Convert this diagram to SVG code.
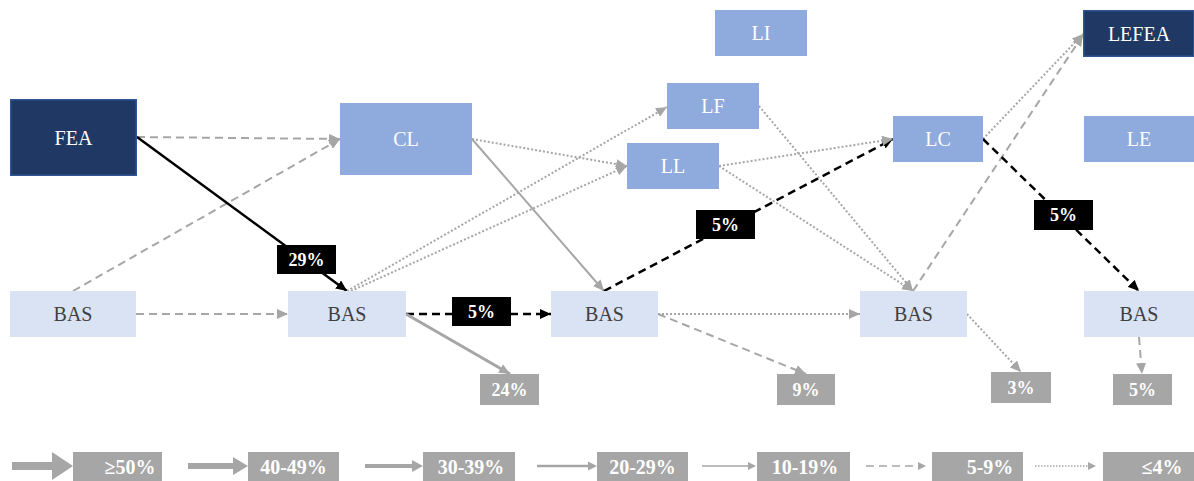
<svg xmlns="http://www.w3.org/2000/svg" width="1194" height="481" viewBox="0 0 1194 481">
  <style>
    .txt { font-family: "Liberation Serif", "DejaVu Serif", serif; font-size: 20px; text-anchor: middle; dominant-baseline: central; }
    .w { fill: #ffffff; }
    .d { fill: #404040; }
    .lbl { font-family: "Liberation Serif", "DejaVu Serif", serif; font-size: 18px; font-weight: bold; fill: #ffffff; text-anchor: middle; dominant-baseline: central; }
    .leg { font-family: "Liberation Serif", "DejaVu Serif", serif; font-size: 20px; font-weight: bold; fill: #ffffff; text-anchor: middle; dominant-baseline: central; }
    .navy { fill: #1f3864; stroke: #2f5597; stroke-width: 1.5; }
    .mid { fill: #8faadc; }
    .pale { fill: #dae3f3; }
    .grey { fill: #a6a6a6; }
    .black { fill: #000000; }
    .ln { fill: none; }
    .g-dash { stroke: #a6a6a6; stroke-width: 2; stroke-dasharray: 8 5; marker-end: url(#ahGrey); }
    .g-dot { stroke: #a6a6a6; stroke-width: 2; stroke-dasharray: 2 2; marker-end: url(#ahGrey); }
    .g-solid { stroke: #a6a6a6; stroke-width: 2; marker-end: url(#ahGrey); }
    .g-thick { stroke: #a6a6a6; stroke-width: 3; marker-end: url(#ahGrey); }
    .k-solid { stroke: #000000; stroke-width: 2.5; marker-end: url(#ahBlack); }
    .k-dash { stroke: #000000; stroke-width: 2.5; stroke-dasharray: 8 5; marker-end: url(#ahBlack); }
  </style>
  <defs>
    <marker id="ahGrey" markerUnits="userSpaceOnUse" markerWidth="11" markerHeight="10" refX="11" refY="5" orient="auto">
      <path d="M0,0 L11,5 L0,10 z" fill="#a6a6a6"/>
    </marker>
    <marker id="ahBlack" markerUnits="userSpaceOnUse" markerWidth="11" markerHeight="10" refX="11" refY="5" orient="auto">
      <path d="M0,0 L11,5 L0,10 z" fill="#000000"/>
    </marker>
  </defs>

  <rect width="1194" height="481" fill="#ffffff"/>

  <!-- flows between states -->
  <g id="connectors" class="ln">
    <line class="g-dash" x1="137" y1="137" x2="340" y2="139"/>
    <line class="g-dash" x1="73" y1="291" x2="340" y2="139"/>
    <line class="g-dash" x1="136" y1="314" x2="288" y2="314"/>
    <line class="k-solid" x1="137" y1="137" x2="347" y2="291"/>
    <line class="g-dot" x1="347" y1="291" x2="667" y2="107"/>
    <line class="g-dot" x1="351" y1="291" x2="627" y2="166"/>
    <line class="g-dot" x1="472" y1="139" x2="627" y2="166"/>
    <line class="g-solid" x1="472" y1="139" x2="604" y2="291"/>
    <line class="k-dash" x1="406" y1="314" x2="551" y2="314"/>
    <line class="g-thick" x1="406" y1="314" x2="510" y2="374"/>
    <line class="k-dash" x1="604" y1="291" x2="893" y2="139"/>
    <line class="g-dot" x1="658" y1="314" x2="860" y2="314"/>
    <line class="g-dash" x1="658" y1="314" x2="806" y2="374"/>
    <line class="g-dot" x1="759" y1="106" x2="913" y2="291"/>
    <line class="g-dot" x1="719" y1="166" x2="893" y2="139"/>
    <line class="g-dot" x1="719" y1="166" x2="913" y2="291"/>
    <line class="g-dash" x1="913" y1="291" x2="1083" y2="35"/>
    <line class="g-dot" x1="983" y1="139" x2="1083" y2="34"/>
    <line class="k-dash" x1="983" y1="139" x2="1139" y2="291"/>
    <line class="g-dot" x1="967" y1="314" x2="1021" y2="372"/>
    <line class="g-dash" x1="1139" y1="337" x2="1142" y2="374"/>

    <!-- share labels on the main flows -->
    <rect class="black" x="277" y="245" width="59" height="29"/>
    <text class="lbl" x="306.5" y="260">29%</text>
    <rect class="black" x="452" y="297" width="59" height="29"/>
    <text class="lbl" x="481.5" y="312">5%</text>
    <rect class="black" x="696" y="210" width="59" height="29"/>
    <text class="lbl" x="725.5" y="225">5%</text>
    <rect class="black" x="1034" y="200" width="59" height="30"/>
    <text class="lbl" x="1063.5" y="215">5%</text>
  </g>

  <!-- states -->
  <g id="node-fea"><rect class="navy" x="10.75" y="99.75" width="125.5" height="75.5"/><text class="txt w" x="73.5" y="137.5">FEA</text></g>
  <g id="node-cl"><rect class="mid" x="340" y="103" width="132" height="72"/><text class="txt w" x="406" y="139">CL</text></g>
  <g id="node-li"><rect class="mid" x="715" y="10" width="92" height="46"/><text class="txt w" x="761" y="33">LI</text></g>
  <g id="node-lf"><rect class="mid" x="667" y="83" width="92" height="46"/><text class="txt w" x="713" y="106">LF</text></g>
  <g id="node-ll"><rect class="mid" x="627" y="143" width="92" height="46"/><text class="txt w" x="673" y="166">LL</text></g>
  <g id="node-lc"><rect class="mid" x="893" y="116" width="90" height="46"/><text class="txt w" x="938" y="139">LC</text></g>
  <g id="node-lefea"><rect class="navy" x="1083.75" y="10.75" width="110" height="45.5"/><text class="txt w" x="1139" y="33.5">LEFEA</text></g>
  <g id="node-le"><rect class="mid" x="1084" y="116" width="110" height="46"/><text class="txt w" x="1139" y="139">LE</text></g>

  <g id="node-bas1"><rect class="pale" x="10" y="291" width="126" height="46"/><text class="txt d" x="73" y="314">BAS</text></g>
  <g id="node-bas2"><rect class="pale" x="288" y="291" width="118" height="46"/><text class="txt d" x="347" y="314">BAS</text></g>
  <g id="node-bas3"><rect class="pale" x="551" y="291" width="107" height="46"/><text class="txt d" x="604.5" y="314">BAS</text></g>
  <g id="node-bas4"><rect class="pale" x="860" y="291" width="107" height="46"/><text class="txt d" x="913.5" y="314">BAS</text></g>
  <g id="node-bas5"><rect class="pale" x="1084" y="291" width="110" height="46"/><text class="txt d" x="1139" y="314">BAS</text></g>

  <!-- exits -->
  <g id="exit-24"><rect class="grey" x="480" y="374" width="59" height="31"/><text class="lbl" x="509.5" y="390">24%</text></g>
  <g id="exit-9"><rect class="grey" x="777" y="374" width="58" height="31"/><text class="lbl" x="806" y="390">9%</text></g>
  <g id="exit-3"><rect class="grey" x="991" y="372" width="60" height="31"/><text class="lbl" x="1021" y="388">3%</text></g>
  <g id="exit-5"><rect class="grey" x="1113" y="374" width="59" height="31"/><text class="lbl" x="1142.5" y="390">5%</text></g>

  <!-- legend: line style per share band -->
  <g id="legend">
    <path d="M12,462 H52 V452 L73,466 L52,480 V470 H12 z" fill="#a6a6a6"/>
    <rect class="grey" x="73" y="452" width="89" height="29"/>
    <text class="leg" x="130" y="467">≥50%</text>

    <path d="M188,463 H233 V457 L248,466 L233,475 V469 H188 z" fill="#a6a6a6"/>
    <rect class="grey" x="248" y="452" width="91" height="29"/>
    <text class="leg" x="293.5" y="467">40-49%</text>

    <path d="M365,464 H412 V460 L423,466 L412,472 V468 H365 z" fill="#a6a6a6"/>
    <rect class="grey" x="423" y="452" width="92" height="29"/>
    <text class="leg" x="471" y="467">30-39%</text>

    <path d="M537,464.8 H588 V461.5 L597,466 L588,470.5 V467.2 H537 z" fill="#a6a6a6"/>
    <rect class="grey" x="597" y="452" width="91" height="29"/>
    <text class="leg" x="642.5" y="467">20-29%</text>

    <path d="M702,465.3 H748 V462 L756,466 L748,470 V466.7 H702 z" fill="#a6a6a6"/>
    <rect class="grey" x="757" y="452" width="93" height="29"/>
    <text class="leg" x="805" y="467">10-19%</text>

    <line x1="866" y1="466" x2="918" y2="466" stroke="#a6a6a6" stroke-width="1.5" stroke-dasharray="8 5"/>
    <path d="M918,462 L926,466 L918,470 z" fill="#a6a6a6"/>
    <rect class="grey" x="932" y="452" width="91" height="29"/>
    <text class="leg" x="990" y="467">5-9%</text>

    <line x1="1035" y1="466" x2="1088" y2="466" stroke="#a6a6a6" stroke-width="1.5" stroke-dasharray="1.5 1.5"/>
    <path d="M1088,462 L1096,466 L1088,470 z" fill="#a6a6a6"/>
    <rect class="grey" x="1103" y="452" width="91" height="29"/>
    <text class="leg" x="1162" y="467">≤4%</text>
  </g>
</svg>
